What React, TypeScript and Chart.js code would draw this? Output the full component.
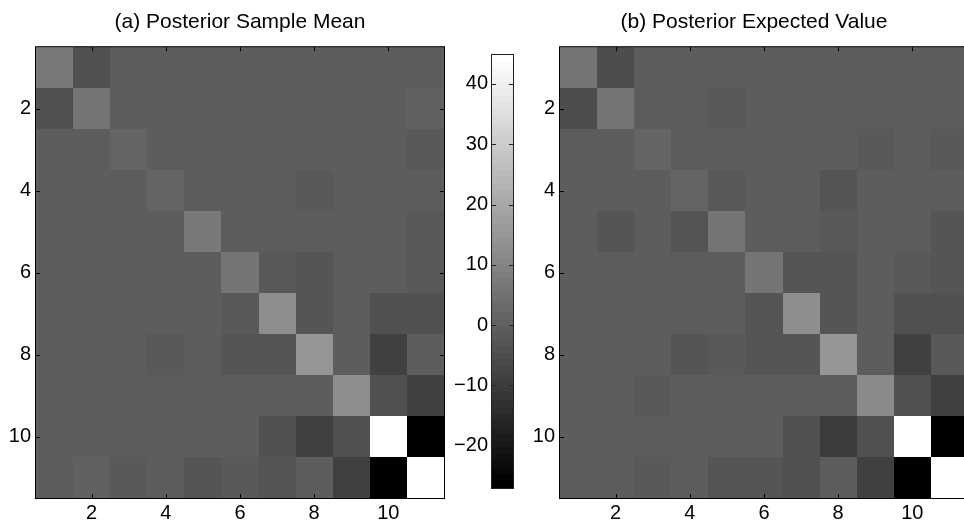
import React, { useEffect, useRef } from "react";
import { Chart, registerables } from "chart.js";

Chart.register(...registerables);

// ---- data ----
const rowIndex = [1, 2, 3, 4, 5, 6, 7, 8, 9, 10, 11];
const colIndex = [1, 2, 3, 4, 5, 6, 7, 8, 9, 10, 11];
const axisTicks = [2, 4, 6, 8, 10];
const colorbarTicks = [-20, -10, 0, 10, 20, 30, 40];
const colorMin = -27.0;
const colorMax = 44.8;
const colorLevels = 64;

const titleA = "(a) Posterior Sample Mean";
const titleB = "(b) Posterior Expected Value";

const sampleMean = [
  [7.2, -4.4, -0.3, -0.3, -0.3, -0.3, -0.3, -0.3, -0.3, -0.3, -0.3],
  [-4.4, 6.4, -0.3, -0.3, -0.3, -0.3, -0.3, -0.3, -0.3, -0.3, 0.3],
  [-0.3, -0.3, 1.6, -0.3, -0.3, -0.3, -0.3, -0.3, -0.3, -0.3, -1.4],
  [-0.3, -0.3, -0.3, 1.6, -0.3, -0.3, -0.3, -1.4, -0.3, -0.3, -0.3],
  [-0.3, -0.3, -0.3, -0.3, 7.0, -0.3, -0.3, -0.3, -0.3, -0.3, -2.2],
  [-0.3, -0.3, -0.3, -0.3, -0.3, 6.6, -2.2, -2.8, -0.3, -0.3, -1.6],
  [-0.3, -0.3, -0.3, -0.3, -0.3, -2.2, 12.5, -2.8, -0.6, -4.0, -4.0],
  [-0.3, -0.3, -0.3, -1.6, -0.3, -3.0, -3.0, 15.0, -0.5, -8.6, -0.8],
  [-0.3, -0.3, -0.3, -0.3, -0.3, -0.3, -0.3, -0.3, 12.8, -4.0, -8.4],
  [-0.3, -0.3, -0.3, -0.3, -0.3, -0.3, -3.8, -8.6, -3.8, 44.8, -27.0],
  [-0.6, 0.4, -1.6, -0.3, -2.4, -1.6, -3.4, -0.6, -8.6, -27.0, 44.8],
];

const expectedValue = [
  [6.6, -5.0, -0.3, -0.3, -0.3, -0.3, -0.3, -0.3, -0.3, -0.3, -0.3],
  [-5.0, 6.0, -0.8, -0.8, -2.0, -0.3, -0.3, -0.3, -0.3, -0.3, -0.3],
  [-0.8, -0.8, 1.2, -0.8, -0.8, -0.8, -0.8, -0.8, -1.6, -0.5, -1.6],
  [-0.8, -0.8, -0.8, 1.8, -2.0, -0.5, -0.5, -3.0, -0.5, -0.5, -0.5],
  [-0.8, -2.4, -0.8, -2.4, 6.0, -0.8, -0.5, -1.6, -0.5, -0.5, -3.0],
  [-0.8, -0.8, -0.8, -0.8, -0.8, 6.0, -3.0, -3.0, -1.0, -1.6, -2.4],
  [-0.5, -0.5, -0.5, -0.5, -0.5, -3.0, 12.5, -2.4, -1.0, -4.4, -4.4],
  [-0.5, -0.5, -0.5, -3.0, -1.6, -3.0, -2.4, 15.0, -1.0, -8.6, -1.6],
  [-0.5, -0.5, -1.6, -1.0, -1.0, -1.0, -1.0, -1.0, 12.0, -4.4, -8.4],
  [-0.5, -0.5, -0.5, -0.5, -0.5, -1.0, -4.4, -9.2, -4.4, 44.8, -27.0],
  [-0.5, -0.5, -1.6, -0.5, -3.0, -2.4, -3.8, -1.0, -8.6, -27.0, 44.8],
];

// ---- helpers ----
const FONT = '"Liberation Sans", Arial, Helvetica, sans-serif';

function levelGray(idx: number): string {
  const g = Math.round((idx / (colorLevels - 1)) * 255);
  return `rgb(${g},${g},${g})`;
}

function valueGray(v: number): string {
  let idx = Math.floor(((v - colorMin) / (colorMax - colorMin)) * colorLevels);
  idx = Math.max(0, Math.min(colorLevels - 1, idx));
  return levelGray(idx);
}

function fmt(v: number): string {
  return v < 0 ? "\u2212" + Math.abs(v) : String(v);
}

const cellPlugin = {
  id: "cells",
  beforeDatasetsDraw(chart: any) {
    const ds = chart.data.datasets[0];
    const xs = chart.scales.x;
    const ys = chart.scales.y;
    const ctx = chart.ctx;
    ctx.save();
    for (const p of ds.data as any[]) {
      const l = Math.round(xs.getPixelForValue(p.x - 0.5));
      const r = Math.round(xs.getPixelForValue(p.x + 0.5));
      const t = Math.round(ys.getPixelForValue(p.y - 0.5));
      const b = Math.round(ys.getPixelForValue(p.y + 0.5));
      ctx.fillStyle = valueGray(p.v);
      ctx.fillRect(Math.min(l, r), Math.min(t, b), Math.abs(r - l), Math.abs(b - t));
    }
    ctx.restore();
  },
};

const bandPlugin = {
  id: "bands",
  beforeDatasetsDraw(chart: any) {
    const ds = chart.data.datasets[0];
    const ys = chart.scales.y;
    const { left, right } = chart.chartArea;
    const ctx = chart.ctx;
    const step = (colorMax - colorMin) / colorLevels;
    ctx.save();
    for (const p of ds.data as any[]) {
      const v0 = colorMin + p.y * step;
      const y0 = Math.round(ys.getPixelForValue(v0));
      const y1 = Math.round(ys.getPixelForValue(v0 + step));
      ctx.fillStyle = levelGray(p.y);
      ctx.fillRect(left, Math.min(y0, y1), right - left, Math.abs(y1 - y0));
    }
    ctx.restore();
  },
};

const framePlugin = {
  id: "frame",
  afterDatasetsDraw(chart: any, _args: any, opts: any) {
    const { left, right, top, bottom } = chart.chartArea;
    const ctx = chart.ctx;
    const L = opts.tickLength ?? 4;
    ctx.save();
    ctx.strokeStyle = opts.color ?? "#000";
    ctx.lineWidth = 1;
    ctx.strokeRect(left - 0.5, top - 0.5, right - left + 1, bottom - top + 1);
    ctx.beginPath();
    if (opts.xTicks) {
      const xs = chart.scales.x;
      for (const tv of opts.xTicks) {
        const px = Math.round(xs.getPixelForValue(tv)) + 0.5;
        ctx.moveTo(px, top);
        ctx.lineTo(px, top + L);
        ctx.moveTo(px, bottom);
        ctx.lineTo(px, bottom - L);
      }
    }
    if (opts.yTicks) {
      const ys = chart.scales.y;
      for (const tv of opts.yTicks) {
        const py = Math.round(ys.getPixelForValue(tv)) + 0.5;
        ctx.moveTo(left, py);
        ctx.lineTo(left + L, py);
        ctx.moveTo(right, py);
        ctx.lineTo(right - L, py);
      }
    }
    ctx.stroke();
    ctx.restore();
  },
};

function fixedTicks(values: number[]) {
  return (scale: any) => {
    scale.ticks = values.map((v) => ({ value: v }));
  };
}

type HeatProps = {
  matrix: number[][];
  title: string;
  left: number;
  width: number;
  padLeft: number;
  padRight: number;
  yAxisWidth: number;
  rightGap: number;
  titleFullSize: boolean;
};

function Heatmap(props: HeatProps) {
  const ref = useRef<HTMLCanvasElement | null>(null);
  useEffect(() => {
    const points: any[] = [];
    rowIndex.forEach((r, i) => {
      colIndex.forEach((c, j) => {
        points.push({ x: c, y: r, v: props.matrix[i][j] });
      });
    });
    const scales: any = {
      x: {
        type: "linear",
        min: 0.5,
        max: 11.5,
        afterBuildTicks: fixedTicks(axisTicks),
        afterFit: (s: any) => {
          s.height = 29;
        },
        grid: { display: false, drawTicks: false },
        border: { display: false },
        ticks: {
          color: "#000",
          font: { family: FONT, size: 20 },
          padding: 3,
          maxRotation: 0,
          callback: (v: any) => fmt(Number(v)),
        },
      },
      y: {
        type: "linear",
        reverse: true,
        min: 0.5,
        max: 11.5,
        afterBuildTicks: fixedTicks(axisTicks),
        afterFit: (s: any) => {
          s.width = props.yAxisWidth;
        },
        grid: { display: false, drawTicks: false },
        border: { display: false },
        ticks: {
          color: "#000",
          font: { family: FONT, size: 20 },
          padding: 5,
          callback: (v: any) => fmt(Number(v)),
        },
      },
    };
    if (props.rightGap > 0) {
      scales.yRight = {
        type: "linear",
        position: "right",
        reverse: true,
        min: 0.5,
        max: 11.5,
        afterFit: (s: any) => {
          s.width = props.rightGap;
        },
        grid: { display: false, drawTicks: false },
        border: { display: false },
        ticks: { display: false },
      };
    }
    const chart = new Chart(ref.current as HTMLCanvasElement, {
      type: "scatter",
      data: {
        datasets: [{ data: points, pointRadius: 0, pointHoverRadius: 0, yAxisID: "y" }],
      },
      options: {
        animation: false,
        responsive: false,
        devicePixelRatio: 1,
        events: [],
        layout: {
          padding: { left: props.padLeft, right: props.padRight, top: 0, bottom: 0 },
        },
        plugins: {
          legend: { display: false },
          tooltip: { enabled: false },
          title: {
            display: true,
            text: props.title,
            fullSize: props.titleFullSize,
            color: "#000",
            font: { family: FONT, size: 21, weight: "normal" },
            padding: { top: 10, bottom: 12 },
          },
          frame: { xTicks: axisTicks, yTicks: axisTicks, tickLength: 4 },
        } as any,
        scales,
      },
      plugins: [cellPlugin, framePlugin],
    });
    return () => chart.destroy();
  }, []);
  return (
    <canvas
      ref={ref}
      width={props.width}
      height={527}
      style={{ position: "absolute", left: props.left, top: 0, width: props.width, height: 527 }}
    />
  );
}

function Colorbar() {
  const ref = useRef<HTMLCanvasElement | null>(null);
  useEffect(() => {
    const levels = Array.from({ length: colorLevels }, (_, i) => ({ x: 0.5, y: i }));
    const chart = new Chart(ref.current as HTMLCanvasElement, {
      type: "scatter",
      data: { datasets: [{ data: levels, pointRadius: 0, pointHoverRadius: 0 }] },
      options: {
        animation: false,
        responsive: false,
        devicePixelRatio: 1,
        events: [],
        layout: { padding: { left: 0, right: 7, top: 55, bottom: 39 } },
        plugins: {
          legend: { display: false },
          tooltip: { enabled: false },
          title: { display: false },
          frame: { yTicks: colorbarTicks, tickLength: 4, color: "#222" },
        } as any,
        scales: {
          x: { type: "linear", min: 0, max: 1, display: false },
          y: {
            type: "linear",
            min: colorMin,
            max: colorMax,
            afterBuildTicks: fixedTicks(colorbarTicks),
            afterFit: (s: any) => {
              s.width = 52;
            },
            grid: { display: false, drawTicks: false },
            border: { display: false },
            ticks: {
              color: "#000",
              font: { family: FONT, size: 20 },
              padding: 4,
              callback: (v: any) => fmt(Number(v)),
            },
          },
        },
      },
      plugins: [bandPlugin, framePlugin],
    });
    return () => chart.destroy();
  }, []);
  return (
    <canvas
      ref={ref}
      width={80}
      height={527}
      style={{ position: "absolute", left: 440, top: 0, width: 80, height: 527 }}
    />
  );
}

export default function App() {
  return (
    <div
      style={{
        position: "fixed",
        left: 0,
        top: 0,
        width: 964,
        height: 527,
        overflow: "hidden",
        background: "#fff",
      }}
    >
      <Heatmap
        matrix={sampleMean}
        title={titleA}
        left={0}
        width={480}
        padLeft={0}
        padRight={36}
        yAxisWidth={36}
        rightGap={0}
        titleFullSize={false}
      />
      <Colorbar />
      <Heatmap
        matrix={expectedValue}
        title={titleB}
        left={524}
        width={460}
        padLeft={8}
        padRight={8}
        yAxisWidth={28}
        rightGap={8}
        titleFullSize={true}
      />
    </div>
  );
}
